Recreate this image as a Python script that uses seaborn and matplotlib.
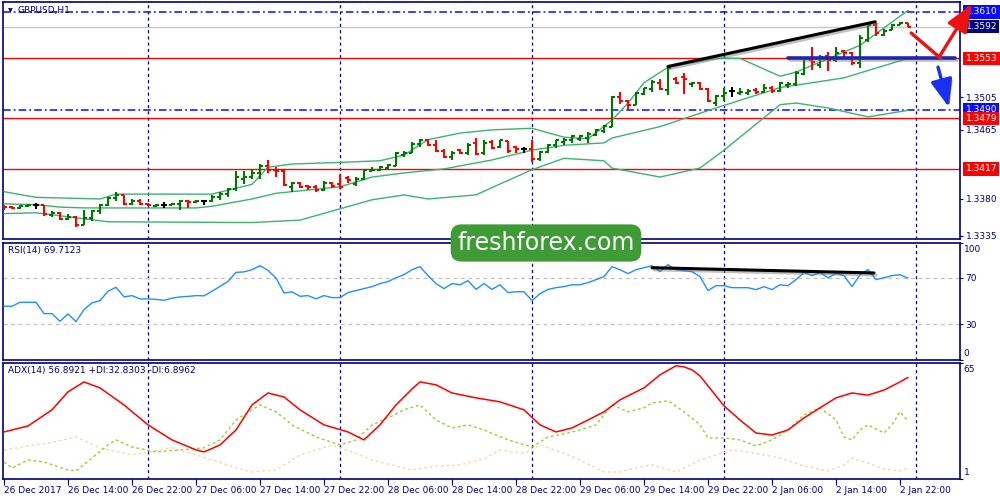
import numpy as np
import pandas as pd
import matplotlib
matplotlib.use("Agg")
import matplotlib.pyplot as plt
import matplotlib.patheffects as pe
from matplotlib.transforms import blended_transform_factory as blend
import seaborn as sns

# GBPUSD H1, 26 Dec 2017 06:00 .. 2 Jan 2018 23:00 -> 114 hourly bars
opens = [1.3371, 1.3370, 1.3369, 1.3371, 1.3372, 1.3372, 1.3360, 1.3363, 1.3355, 1.3358,
         1.3348, 1.3356, 1.3365, 1.3373, 1.3381, 1.3385, 1.3374, 1.3378, 1.3374, 1.3371,
         1.3373, 1.3373, 1.3374, 1.3378, 1.3376, 1.3378, 1.3378, 1.3383, 1.3386, 1.3392,
         1.3405, 1.3407, 1.3412, 1.3420, 1.3416, 1.3414, 1.3395, 1.3400, 1.3396, 1.3395,
         1.3391, 1.3400, 1.3398, 1.3406, 1.3398, 1.3405, 1.3415, 1.3416, 1.3418, 1.3421,
         1.3434, 1.3437, 1.3448, 1.3452, 1.3447, 1.3439, 1.3432, 1.3440, 1.3437, 1.3449,
         1.3436, 1.3450, 1.3444, 1.3451, 1.3444, 1.3441, 1.3441, 1.3429, 1.3438, 1.3446,
         1.3450, 1.3452, 1.3454, 1.3455, 1.3459, 1.3464, 1.3469, 1.3505, 1.3500, 1.3496,
         1.3509, 1.3515, 1.3523, 1.3514, 1.3527, 1.3530, 1.3521, 1.3523, 1.3515, 1.3498,
         1.3507, 1.3513, 1.3510, 1.3510, 1.3514, 1.3511, 1.3516, 1.3513, 1.3520, 1.3522,
         1.3534, 1.3551, 1.3545, 1.3556, 1.3551, 1.3562, 1.3559, 1.3547, 1.3576, 1.3594,
         1.3582, 1.3588, 1.3594, 1.3597]
highs = [1.3372, 1.3371, 1.3372, 1.3374, 1.3375, 1.3373, 1.3365, 1.3364, 1.3361, 1.3359,
         1.3366, 1.3366, 1.3374, 1.3382, 1.3388, 1.3385, 1.3380, 1.3380, 1.3375, 1.3374,
         1.3376, 1.3375, 1.3379, 1.3379, 1.3379, 1.3379, 1.3385, 1.3388, 1.3394, 1.3414,
         1.3414, 1.3417, 1.3423, 1.3428, 1.3419, 1.3416, 1.3401, 1.3401, 1.3397, 1.3397,
         1.3402, 1.3401, 1.3411, 1.3408, 1.3407, 1.3417, 1.3419, 1.3420, 1.3423, 1.3438,
         1.3439, 1.3450, 1.3454, 1.3454, 1.3453, 1.3442, 1.3439, 1.3442, 1.3449, 1.3455,
         1.3453, 1.3453, 1.3453, 1.3451, 1.3445, 1.3444, 1.3453, 1.3439, 1.3448, 1.3453,
         1.3455, 1.3459, 1.3459, 1.3462, 1.3466, 1.3471, 1.3507, 1.3512, 1.3502, 1.3511,
         1.3517, 1.3526, 1.3527, 1.3543, 1.3530, 1.3535, 1.3524, 1.3524, 1.3516, 1.3508,
         1.3516, 1.3518, 1.3516, 1.3515, 1.3516, 1.3521, 1.3519, 1.3524, 1.3524, 1.3537,
         1.3553, 1.3567, 1.3557, 1.3561, 1.3567, 1.3563, 1.3561, 1.3582, 1.3597, 1.3597,
         1.3589, 1.3595, 1.3598, 1.3597]
lows = [1.3367, 1.3368, 1.3368, 1.3370, 1.3368, 1.3359, 1.3358, 1.3354, 1.3354, 1.3345,
        1.3348, 1.3353, 1.3362, 1.3371, 1.3377, 1.3373, 1.3372, 1.3373, 1.3371, 1.3370,
        1.3369, 1.3372, 1.3366, 1.3369, 1.3375, 1.3373, 1.3376, 1.3379, 1.3383, 1.3390,
        1.3399, 1.3404, 1.3405, 1.3412, 1.3407, 1.3396, 1.3388, 1.3393, 1.3391, 1.3389,
        1.3390, 1.3394, 1.3392, 1.3400, 1.3396, 1.3403, 1.3414, 1.3415, 1.3417, 1.3420,
        1.3432, 1.3436, 1.3444, 1.3445, 1.3438, 1.3430, 1.3428, 1.3435, 1.3434, 1.3434,
        1.3434, 1.3442, 1.3443, 1.3437, 1.3437, 1.3437, 1.3426, 1.3427, 1.3437, 1.3443,
        1.3446, 1.3449, 1.3451, 1.3449, 1.3457, 1.3461, 1.3468, 1.3497, 1.3489, 1.3495,
        1.3508, 1.3511, 1.3514, 1.3508, 1.3522, 1.3509, 1.3518, 1.3514, 1.3499, 1.3494,
        1.3500, 1.3506, 1.3508, 1.3508, 1.3509, 1.3510, 1.3510, 1.3511, 1.3517, 1.3519,
        1.3532, 1.3539, 1.3541, 1.3538, 1.3548, 1.3553, 1.3545, 1.3541, 1.3573, 1.3580,
        1.3580, 1.3588, 1.3594, 1.3592]
closes = [1.3370, 1.3369, 1.3371, 1.3372, 1.3372, 1.3361, 1.3363, 1.3355, 1.3358, 1.3348,
          1.3356, 1.3365, 1.3373, 1.3381, 1.3385, 1.3374, 1.3378, 1.3374, 1.3372, 1.3373,
          1.3373, 1.3374, 1.3378, 1.3376, 1.3378, 1.3378, 1.3383, 1.3386, 1.3392, 1.3407,
          1.3407, 1.3412, 1.3420, 1.3416, 1.3414, 1.3397, 1.3400, 1.3395, 1.3395, 1.3391,
          1.3400, 1.3396, 1.3395, 1.3403, 1.3405, 1.3416, 1.3416, 1.3419, 1.3422, 1.3437,
          1.3437, 1.3448, 1.3453, 1.3447, 1.3439, 1.3432, 1.3437, 1.3437, 1.3447, 1.3435,
          1.3449, 1.3443, 1.3452, 1.3439, 1.3441, 1.3441, 1.3429, 1.3438, 1.3446, 1.3452,
          1.3452, 1.3457, 1.3457, 1.3460, 1.3465, 1.3470, 1.3505, 1.3501, 1.3496, 1.3510,
          1.3516, 1.3524, 1.3515, 1.3541, 1.3523, 1.3527, 1.3523, 1.3515, 1.3500, 1.3507,
          1.3510, 1.3513, 1.3512, 1.3513, 1.3511, 1.3516, 1.3513, 1.3523, 1.3522, 1.3535,
          1.3552, 1.3549, 1.3555, 1.3551, 1.3560, 1.3559, 1.3547, 1.3578, 1.3594, 1.3584,
          1.3587, 1.3594, 1.3597, 1.3592]

# bollinger bands, read at a few bars
bb_up_idx = [0, 4, 12, 14, 26, 31, 33, 36, 42, 47, 50, 53, 57, 61, 66, 70, 73, 76, 78, 80,
             83, 89, 92, 97, 99, 107, 113]
bb_up = [1.3389, 1.3382, 1.3380, 1.3386, 1.3386, 1.3398, 1.3419, 1.3423, 1.3425, 1.3427,
         1.3434, 1.3453, 1.3461, 1.3465, 1.3467, 1.3456, 1.3454, 1.3477, 1.3498, 1.3523,
         1.3542, 1.3553, 1.3553, 1.3531, 1.3536, 1.3569, 1.3612]
bb_mid_idx = [0, 4, 7, 10, 24, 26, 31, 34, 42, 46, 50, 55, 61, 66, 70, 75, 76, 82, 89, 97,
              105, 113]
bb_mid = [1.3374, 1.3373, 1.3370, 1.3369, 1.3369, 1.3371, 1.3380, 1.3387, 1.3395, 1.3407,
          1.3412, 1.3417, 1.3428, 1.3440, 1.3446, 1.3449, 1.3455, 1.3469, 1.3492, 1.3517,
          1.3529, 1.3553]
bb_low_idx = [0, 4, 13, 31, 37, 46, 50, 53, 59, 61, 66, 70, 75, 76, 82, 87, 90, 97, 99, 103,
              108, 113]
bb_low = [1.3362, 1.3363, 1.3352, 1.3351, 1.3354, 1.3379, 1.3385, 1.3380, 1.3385, 1.3394,
          1.3416, 1.3430, 1.3427, 1.3418, 1.3407, 1.3418, 1.3440, 1.3496, 1.3498, 1.3492,
          1.3481, 1.3489]

rsi = [45.6, 45.6, 49.0, 49.0, 49.0, 39.3, 39.3, 32.7, 39.0, 32.5,
       42.7, 48.5, 50.4, 58.4, 61.8, 53.6, 54.7, 51.9, 51.9, 51.5,
       50.7, 52.5, 53.6, 54.0, 54.7, 54.5, 58.4, 62.6, 66.9, 74.6,
       75.0, 76.9, 80.3, 76.3, 69.8, 57.0, 57.9, 54.1, 54.7, 52.0,
       54.7, 53.0, 53.0, 57.3, 59.0, 60.7, 62.4, 65.0, 66.7, 70.0,
       72.6, 76.9, 79.5, 71.8, 65.0, 60.7, 65.0, 64.0, 67.5, 60.0,
       65.0, 60.0, 64.0, 57.3, 58.0, 58.0, 50.4, 56.4, 60.0, 61.5,
       62.4, 64.0, 64.0, 65.8, 68.4, 71.0, 79.5, 76.9, 73.5, 76.9,
       78.6, 80.3, 75.2, 81.2, 76.9, 76.0, 75.2, 71.0, 59.0, 63.2,
       63.2, 61.5, 61.5, 61.5, 59.8, 62.4, 59.8, 64.0, 63.2, 68.4,
       74.4, 71.8, 74.4, 70.0, 73.5, 71.8, 62.4, 72.6, 76.9, 68.4,
       70.0, 71.8, 72.6, 69.7]

adx_idx = [0, 3, 6, 8, 10, 12, 15, 18, 21, 24, 25, 27, 29, 31, 33, 35, 37, 40, 43, 45,
           47, 49, 51, 52, 54, 56, 59, 62, 65, 67, 69, 71, 73, 75, 77, 80, 82, 84, 85, 86,
           87, 88, 89, 90, 92, 94, 96, 98, 100, 102, 104, 106, 108, 110, 112, 113]
adx = [26.8, 30.1, 39.0, 48.9, 54.4, 51.1, 41.7, 30.7, 22.4, 16.9,
       15.8, 19.6, 27.9, 41.7, 48.3, 46.1, 39.0, 30.7, 26.8, 22.4,
       30.7, 41.7, 50.5, 54.4, 52.8, 48.3, 45.6, 43.4, 39.0, 30.7,
       26.8, 29.0, 33.4, 37.9, 44.5, 51.1, 58.3, 63.3, 62.7, 61.1,
       57.7, 52.2, 46.7, 41.2, 33.4, 26.2, 25.1, 27.9, 34.5, 40.1,
       45.6, 48.3, 47.1, 49.9, 54.4, 56.9]
pdi_idx = [0, 1, 3, 5, 8, 9, 11, 13, 14, 16, 19, 22, 25, 27, 29, 31, 32, 34, 36, 39,
           42, 44, 46, 48, 50, 52, 54, 56, 58, 60, 63, 66, 68, 70, 72, 74, 76, 78, 80, 81,
           83, 85, 87, 88, 90, 92, 94, 96, 98, 100, 102, 104, 105, 106, 107, 108, 110, 111, 112, 113]
pdi = [10.2, 6.9, 11.3, 10.2, 5.8, 5.3, 12.4, 19.6, 22.4, 18.5,
       15.8, 16.9, 18.0, 22.4, 33.4, 39.0, 41.7, 37.9, 30.7, 24.0,
       19.6, 22.4, 30.7, 34.5, 39.0, 41.7, 33.4, 29.0, 30.7, 27.9,
       22.4, 18.5, 24.0, 25.7, 27.9, 30.7, 41.7, 37.9, 40.1, 42.8,
       44.0, 37.9, 30.7, 23.5, 23.5, 22.4, 19.1, 22.4, 27.9, 36.2,
       40.1, 33.4, 24.0, 22.4, 27.9, 30.7, 26.2, 30.7, 37.9, 32.8]
mdi_idx = [0, 3, 6, 9, 12, 16, 21, 24, 27, 29, 31, 34, 37, 41, 44, 46, 49, 51, 54, 57,
           60, 62, 65, 67, 70, 72, 75, 77, 79, 81, 84, 87, 89, 91, 94, 97, 100, 103, 105, 106,
           108, 110, 112, 113]
mdi = [16.9, 19.0, 21.0, 24.0, 18.0, 14.1, 18.0, 14.1, 10.0, 7.0,
       4.7, 5.8, 14.1, 19.6, 15.0, 11.3, 8.0, 5.8, 8.0, 8.6,
       12.0, 16.9, 15.0, 19.6, 15.0, 11.3, 4.7, 4.7, 7.0, 8.6,
       4.7, 11.3, 14.0, 16.9, 15.0, 12.4, 8.0, 5.3, 8.6, 12.4,
       9.7, 6.4, 5.3, 6.9]

tick_pos = list(range(0, 113, 8))
tick_labels = ["26 Dec 2017", "26 Dec 14:00", "26 Dec 22:00", "27 Dec 06:00", "27 Dec 14:00",
               "27 Dec 22:00", "28 Dec 06:00", "28 Dec 14:00", "28 Dec 22:00", "29 Dec 06:00",
               "29 Dec 14:00", "29 Dec 22:00", "2 Jan 06:00", "2 Jan 14:00", "2 Jan 22:00"]
day_breaks = [18, 42, 66, 90, 114]

# levels and drawings on the chart
red_levels = [1.3553, 1.3479, 1.3417]
blue_levels = [1.3610, 1.3490]
bid = 1.3592
plain_ticks = [1.3505, 1.3465, 1.3380, 1.3335]
boxed = [(1.3610, "#0a0aff"), (1.3592, "#000080"), (1.3553, "#ff0000"),
         (1.3490, "#0a0aff"), (1.3479, "#ff0000"), (1.3417, "#ff0000")]
price_tl_x, price_tl_y = [83, 108.9], [1.3543, 1.3598]
support_x, support_y = [98, 118.9], [1.3553, 1.3553]
red_arrow_x, red_arrow_y = [113.4, 116.9, 121.0], [1.35842, 1.35547, 1.36198]
blue_arrow_x, blue_arrow_y = [116.75, 118.1], [1.35423, 1.34930]
rsi_tl_x, rsi_tl_y = [81, 108.75], [78.6, 74.1]

NAVY = "#000080"
UP, DOWN = "#007800", "#ff0000"
BB = "#3cb371"

sns.set_style("white")
plt.rcParams["font.family"] = ["DejaVu Sans"]

bars = pd.DataFrame({"open": opens, "high": highs, "low": lows, "close": closes})
bars["i"] = np.arange(len(bars))
bar_cols = np.where(bars.close > bars.open, UP, np.where(bars.close < bars.open, DOWN, "black"))

fig = plt.figure(figsize=(10, 5), dpi=100)
L, W = 0.003, 0.957
ax = fig.add_axes([L, 0.5214, W, 0.4746])
ax_rsi = fig.add_axes([L, 0.281, W, 0.2336])
ax_adx = fig.add_axes([L, 0.0426, W, 0.232])

shadow = [pe.SimpleLineShadow(offset=(1.5, -1.5), shadow_color="0.45", alpha=0.45), pe.Normal()]

for a in (ax, ax_rsi, ax_adx):
    a.set_xlim(-0.125, 119.5)
    for s in a.spines.values():
        s.set_color(NAVY)
        s.set_linewidth(1.2)
    for d in day_breaks:
        a.axvline(d, color=NAVY, lw=0.9, ls=(0, (2.5, 2.5)), zorder=1)
    a.yaxis.tick_right()
    a.tick_params(axis="x", bottom=False, labelbottom=False)
    a.tick_params(axis="y", left=False, right=True, colors=NAVY, labelsize=6.5,
                  length=2.5, width=0.8, pad=1.5)
    a.set_xlabel("")
    a.set_ylabel("")

# ---- main price panel
ax.set_ylim(1.33304, 1.36223)
ax.axhline(bid, color="#c8c8c8", lw=1, zorder=1)
for p in red_levels:
    ax.axhline(p, color="#ff0000", lw=1, zorder=2)
for p in blue_levels:
    ax.axhline(p, color="#0a0aff", lw=1.1, ls=(0, (5, 2, 1.2, 2)), zorder=2)

for ix, vals in [(bb_up_idx, bb_up), (bb_mid_idx, bb_mid), (bb_low_idx, bb_low)]:
    sns.lineplot(x=ix, y=vals, ax=ax, color=BB, lw=1, zorder=3)

ax.vlines(bars.i, bars.low, bars.high, colors=bar_cols, lw=1.5, zorder=4)
ax.hlines(bars.open, bars.i - 0.4, bars.i, colors=bar_cols, lw=1.5, zorder=4)
ax.hlines(bars.close, bars.i, bars.i + 0.4, colors=bar_cols, lw=1.5, zorder=4)

ax.plot(price_tl_x, price_tl_y, color="black", lw=2.2, path_effects=shadow, zorder=5)
ax.plot(support_x, support_y, color="#2424b0", lw=2.6, path_effects=shadow, zorder=5)

ax.plot(red_arrow_x[:2], red_arrow_y[:2], color="#ee1111", lw=2.4,
        solid_capstyle="round", path_effects=shadow, zorder=6, clip_on=False)
arr = ax.annotate("", xy=(red_arrow_x[2], red_arrow_y[2]), xytext=(red_arrow_x[1], red_arrow_y[1]),
                  arrowprops=dict(arrowstyle="-|>,head_length=1.4,head_width=0.55", color="#ee1111",
                                  lw=2.4, shrinkA=0, shrinkB=0, mutation_scale=12),
                  annotation_clip=False, zorder=6)
arr.arrow_patch.set_path_effects([pe.SimplePatchShadow(offset=(1.5, -1.5), alpha=0.4), pe.Normal()])
arr2 = ax.annotate("", xy=(blue_arrow_x[1], blue_arrow_y[1]), xytext=(blue_arrow_x[0], blue_arrow_y[0]),
                   arrowprops=dict(arrowstyle="-|>,head_length=1.4,head_width=0.55", color="#1a30f0",
                                   lw=2.4, shrinkA=0, shrinkB=0, mutation_scale=12),
                   annotation_clip=False, zorder=6)
arr2.arrow_patch.set_path_effects([pe.SimplePatchShadow(offset=(1.5, -1.5), alpha=0.4), pe.Normal()])

ax.set_yticks(plain_ticks)
ax.set_yticklabels([f"{p:.4f}" for p in plain_ticks])
trans = blend(ax.transAxes, ax.transData)
for p, c in boxed:
    ax.text(1.006, p, f"{p:.4f}", transform=trans, ha="left", va="center", fontsize=6.5,
            color="white", bbox=dict(boxstyle="square,pad=0.25", fc=c, ec="none"))

# ---- RSI panel
ax_rsi.set_ylim(0, 100)
for lvl in (70, 30):
    ax_rsi.axhline(lvl, color="#c0c0c0", lw=0.9, ls=(0, (3, 3)), zorder=1)
sns.lineplot(x=bars.i, y=rsi, ax=ax_rsi, color="#1e90ff", lw=1, zorder=3)
ax_rsi.plot(rsi_tl_x, rsi_tl_y, color="black", lw=2.2, path_effects=shadow, zorder=5)
ax_rsi.set_yticks([0, 30, 70, 100])
ax_rsi.set_yticklabels(["", "30", "70", ""])
ax_rsi.text(1.004, 0.946, "100", transform=ax_rsi.transAxes, va="center", fontsize=6.5, color=NAVY)
ax_rsi.text(1.004, 0.053, "0", transform=ax_rsi.transAxes, va="center", fontsize=6.5, color=NAVY)
ax_rsi.set_xlabel("")
ax_rsi.set_ylabel("")

# ---- ADX panel
ax_adx.set_ylim(1, 65)
sns.lineplot(x=mdi_idx, y=mdi, ax=ax_adx, color="#f5d9a8", lw=1, ls=(0, (2, 2)), zorder=2)
sns.lineplot(x=pdi_idx, y=pdi, ax=ax_adx, color="#9acd32", lw=1, ls=(0, (2, 2)), zorder=3)
sns.lineplot(x=adx_idx, y=adx, ax=ax_adx, color="#ff0000", lw=1.1, zorder=4)
ax_adx.set_yticks([1, 65])
ax_adx.set_yticklabels(["", ""])
ax_adx.text(1.004, 0.943, "65", transform=ax_adx.transAxes, va="center", fontsize=6.5, color=NAVY)
ax_adx.text(1.004, 0.055, "1", transform=ax_adx.transAxes, va="center", fontsize=6.5, color=NAVY)
ax_adx.set_xticks(tick_pos)
ax_adx.set_xticklabels(tick_labels, ha="left")
ax_adx.tick_params(axis="x", bottom=True, labelbottom=True, colors=NAVY, labelsize=6.5,
                   length=4, width=0.8, pad=1.5, direction="out")
ax_adx.set_xlabel("")
ax_adx.set_ylabel("")
for a in (ax, ax_rsi):
    a.set_xlabel("")
    a.set_ylabel("")

# ---- texts
fig.text(0.0075, 1 - 10.5 / 500, "\u25bc", fontsize=4.5, color=NAVY, va="center")
fig.text(0.018, 1 - 10 / 500, "GBPUSD,H1", fontsize=6.5, color=NAVY, va="center")
fig.text(0.008, 1 - 251 / 500, "RSI(14) 69.7123", fontsize=6.5, color=NAVY, va="center")
fig.text(0.008, 1 - 371 / 500, "ADX(14) 56.8921 +DI:32.8303 -DI:6.8962", fontsize=6.5,
         color=NAVY, va="center")
fig.text(0.546, 1 - 243 / 500, "freshforex.com", ha="center", va="center", fontsize=17,
         color="white", zorder=10,
         bbox=dict(boxstyle="round,pad=0.28,rounding_size=0.45", fc="#3e9b36", ec="none"))

fig.savefig("out.png", dpi=100)
